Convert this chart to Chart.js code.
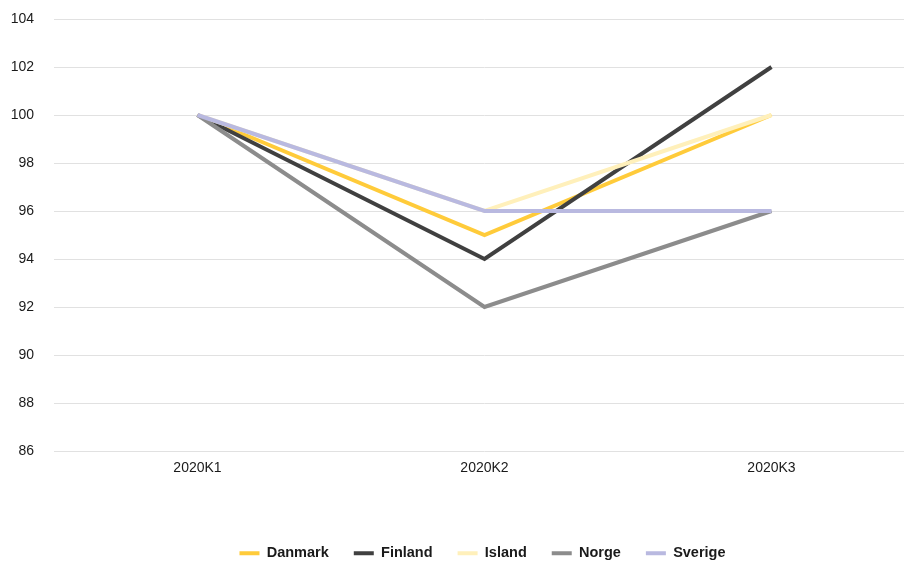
<!DOCTYPE html>
<html>
<head>
<meta charset="utf-8">
<script src="https://cdn.jsdelivr.net/npm/chart.js@4/dist/chart.umd.min.js"></script>
<style>
  html, body { margin: 0; padding: 0; background: #fff; }
  #wrap { width: 904px; height: 562px; overflow: hidden; }
  #box { width: 915px; height: 562px; }
</style>
</head>
<body>
<div id="wrap"><div id="box"><canvas id="chart"></canvas></div></div>
<script>
/* Data */
let quarters = ['2020K1', '2020K2', '2020K3']
let danmark = [100, 95, 100]
let finland = [100, 94, 102]
let island = [100, 96, 100]
let norge = [100, 92, 96]
let sverige = [100, 96, 96]

let seriesNames = ['Danmark', 'Finland', 'Island', 'Norge', 'Sverige']
let seriesValues = [danmark, finland, island, norge, sverige]
let seriesColors = ['#ffcb3a', '#404040', '#fff0bb', '#8c8c8c', '#b9b9e0']

let yTicks = [86, 88, 90, 92, 94, 96, 98, 100, 102, 104]

let datasets = seriesNames.map(function(name, i) {
    return {
        label: name,
        data: seriesValues[i],
        borderColor: seriesColors[i],
        backgroundColor: seriesColors[i],
        borderWidth: 4,
        borderCapStyle: 'butt',
        pointRadius: 0,
        tension: 0,
        order: seriesNames.length - i  // later series drawn on top
    }
})

/* Legend: fixed height and centred on the plot area */
let legendTweak = {
    id: 'legendTweak',
    beforeInit(chart) {
        let legend = chart.legend
        let fit = legend.fit
        legend.fit = function() {
            fit.call(this)
            this.height = 41
        }
    },
    afterLayout(chart) {
        let legend = chart.legend
        let area = chart.chartArea
        let shift = (area.left + area.right) / 2 - (legend.left + legend.right) / 2 - 2
        legend.left += shift
        legend.right += shift
    }
}

let ctx = document.querySelector('#chart').getContext('2d')

new Chart(ctx, {
    type: 'line',
    data: { labels: quarters, datasets: datasets },
    options: {
        responsive: true,
        maintainAspectRatio: false,
        animation: false,
        layout: { padding: { top: 19, left: 0, right: 0, bottom: 0 } },
        plugins: {
            tooltip: { enabled: false },
            legend: {
                position: 'bottom',
                labels: {
                    boxWidth: 20,
                    boxHeight: 4,
                    padding: 25,
                    color: '#1a1a1a',
                    font: { family: 'Liberation Sans, Arial, sans-serif', size: 14.5, weight: 'bold' },
                    generateLabels(chart) {
                        let items = Chart.defaults.plugins.legend.labels.generateLabels(chart)
                        items.sort(function(a, b) { return a.datasetIndex - b.datasetIndex })
                        return items.map(function(item) {
                            item.lineWidth = 0
                            return item
                        })
                    }
                }
            }
        },
        scales: {
            x: {
                offset: true,
                grid: { display: false, drawTicks: false },
                border: { display: false },
                ticks: {
                    padding: 9,
                    color: '#1a1a1a',
                    maxRotation: 0,
                    font: { family: 'Liberation Sans, Arial, sans-serif', size: 14 }
                },
                afterFit(scale) { scale.height = 70 }
            },
            y: {
                min: 86,
                max: 104,
                afterBuildTicks(scale) {
                    scale.ticks = yTicks.map(function(v) { return { value: v } })
                },
                grid: { color: '#e1e1e1', lineWidth: 1, drawTicks: false },
                border: { display: false },
                ticks: {
                    padding: 20,
                    color: '#1a1a1a',
                    font: { family: 'Liberation Sans, Arial, sans-serif', size: 14 }
                },
                afterFit(scale) {
                    scale.width = 54
                    // top/bottom room comes from the layout padding instead
                    scale.paddingTop = 0
                    scale.paddingBottom = 0
                }
            }
        }
    },
    plugins: [legendTweak]
})
</script>
</body>
</html>
